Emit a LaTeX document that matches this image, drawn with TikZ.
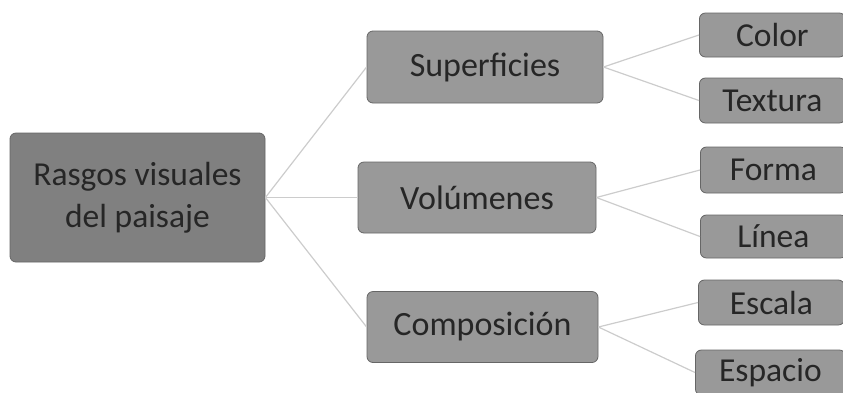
\documentclass[tikz,border=0pt]{standalone}
\usepackage{fontspec}
\setmainfont{Carlito}
\begin{document}
\begin{tikzpicture}[x=1pt,y=-1pt,
  box/.style={draw=black!60, line width=0.8pt, rounded corners=6pt, inner sep=0pt, text=black!85},
  rootbox/.style={box, fill=black!50, font=\fontsize{33.5}{42}\selectfont, align=center},
  midbox/.style={box, fill=black!40, font=\fontsize{34}{40}\selectfont},
  leafbox/.style={box, fill=black!40, font=\fontsize{33.5}{40}\selectfont},
  link/.style={draw=black!20, line width=1.2pt}]
\useasboundingbox (0,0) rectangle (843,392);
\begin{scope}
\clip (0,0) rectangle (843,392);
\node[rootbox, minimum width=255pt, minimum height=129pt, text depth=6pt] (root) at (137.5,197.5) {Rasgos visuales\\del paisaje};
\node[midbox, minimum width=236pt, minimum height=72pt] (sup) at (485,67) {Superficies};
\node[midbox, minimum width=238pt, minimum height=71pt] (vol) at (477,197.5) {Volúmenes};
\node[midbox, minimum width=231pt, minimum height=71pt] (com) at (482.5,327) {Composición};
\node[leafbox, minimum width=146pt, minimum height=44pt, anchor=west] (col) at (699,35) {Color};
\node[leafbox, minimum width=146pt, minimum height=45pt, anchor=west] (tex) at (699,100.5) {Textura};
\node[leafbox, minimum width=146pt, minimum height=46pt, anchor=west] (for) at (700,170) {Forma};
\node[leafbox, minimum width=146pt, minimum height=43pt, anchor=west] (lin) at (700,236.5) {Línea};
\node[leafbox, minimum width=146pt, minimum height=45pt, anchor=west] (esc) at (698,302.5) {Escala};
\node[leafbox, minimum width=150pt, minimum height=45pt, anchor=west] (esp) at (695,372.5) {Espacio};
\draw[link] (root.east) -- (sup.west);
\draw[link] (root.east) -- (vol.west);
\draw[link] (root.east) -- (com.west);
\draw[link] (sup.east) -- (col.west);
\draw[link] (sup.east) -- (tex.west);
\draw[link] (vol.east) -- (for.west);
\draw[link] (vol.east) -- (lin.west);
\draw[link] (com.east) -- (esc.west);
\draw[link] (com.east) -- (esp.west);
\end{scope}
\end{tikzpicture}
\end{document}
